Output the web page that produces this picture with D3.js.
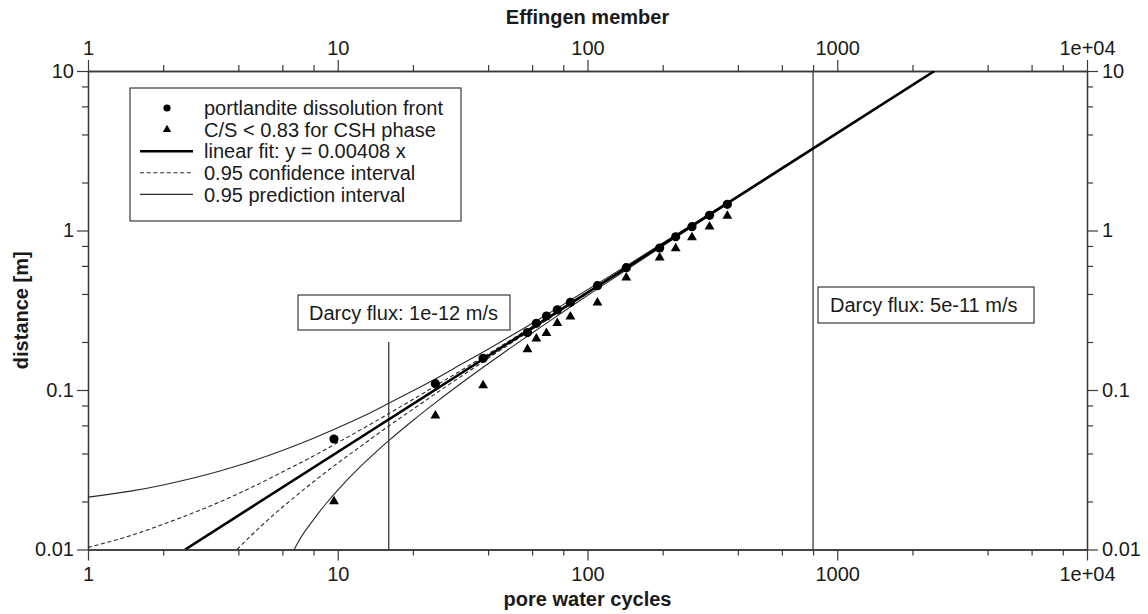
<!DOCTYPE html>
<html>
<head>
<meta charset="utf-8">
<script src="https://cdn.jsdelivr.net/npm/d3@7"></script>
<style>
  html, body { margin: 0; padding: 0; background: #fff; }
  svg { display: block; }
  text { font-family: "Liberation Sans", Arial, sans-serif; fill: #1a1a1a; }
</style>
</head>
<body>
<svg id="chart" width="1148" height="614"></svg>
<script>
// ---------- data ----------
const xMajorTicks = [1, 10, 100, 1000, 10000];
const xTickLabels = ["1", "10", "100", "1000", "1e+04"];
const yMajorTicks = [0.01, 0.1, 1, 10];
const yTickLabels = ["0.01", "0.1", "1", "10"];
const minorMultipliers = [2, 4, 6, 8];

// portlandite dissolution front (pore water cycles, distance m)
const portlanditeX = [9.66, 24.6, 38.2, 57.5, 62.4, 68.5, 75.7, 85.4, 109.6, 143, 194.5, 225.5, 262, 308, 363];
const portlanditeY = [0.0493, 0.1096, 0.158, 0.229, 0.262, 0.291, 0.318, 0.355, 0.451, 0.585, 0.777, 0.914, 1.057, 1.245, 1.46];
// C/S < 0.83 for CSH phase
const csX = [9.66, 24.6, 38.2, 57.5, 62.4, 68.5, 75.7, 85.4, 109.6, 143, 194.5, 225.5, 262, 308, 363];
const csY = [0.020, 0.069, 0.107, 0.180, 0.210, 0.227, 0.262, 0.288, 0.353, 0.506, 0.675, 0.773, 0.906, 1.057, 1.233];

// linear fit y = 0.00408 x (end points inside the plot)
const fitX = [2.45, 2451];
const fitY = [0.01, 10];

// 0.95 confidence interval
const confUpperX = [1, 1.5, 2, 3, 4, 6, 8, 10, 13, 16, 20, 25, 32, 40, 50, 65, 85, 110, 150, 200, 270, 370];
const confUpperY = [0.0103, 0.0123, 0.0144, 0.0184, 0.0224, 0.0306, 0.0386, 0.0468, 0.0589, 0.0711, 0.0873, 0.1077, 0.136, 0.1685, 0.209, 0.270, 0.351, 0.453, 0.616, 0.821, 1.107, 1.519];
const confLowerX = [3.95, 4, 5, 6, 8, 10, 13, 16, 20, 25, 32, 40, 50, 65, 85, 110, 150, 200, 270, 370];
const confLowerY = [0.01, 0.0102, 0.0143, 0.0184, 0.0266, 0.0348, 0.047, 0.0595, 0.0758, 0.0964, 0.125, 0.158, 0.199, 0.260, 0.342, 0.444, 0.608, 0.811, 1.094, 1.500];
// 0.95 prediction interval
const predUpperX = [1, 1.5, 2, 3, 4, 6, 8, 10, 13, 16, 20, 25, 32, 40, 50, 65, 85, 110, 150, 200, 270, 370];
const predUpperY = [0.0213, 0.0233, 0.0254, 0.0295, 0.0336, 0.0418, 0.0499, 0.058, 0.070, 0.0825, 0.0988, 0.119, 0.148, 0.180, 0.221, 0.282, 0.364, 0.466, 0.629, 0.834, 1.120, 1.528];
const predLowerX = [6.69, 7, 8, 9, 10, 12, 14, 16, 20, 25, 32, 40, 50, 65, 85, 110, 150, 200, 270, 370];
const predLowerY = [0.01, 0.0114, 0.0154, 0.0195, 0.0236, 0.0318, 0.0399, 0.0481, 0.0644, 0.0848, 0.1134, 0.146, 0.187, 0.248, 0.330, 0.432, 0.595, 0.799, 1.084, 1.491];

// vertical reference lines
const darcyLowX = 16;      // Darcy flux 1e-12 m/s
const darcyLowTop = 0.2;
const darcyHighX = 800;    // Darcy flux 5e-11 m/s

const legendLabels = [
  "portlandite dissolution front",
  "C/S < 0.83 for CSH phase",
  "linear fit: y = 0.00408 x",
  "0.95 confidence interval",
  "0.95 prediction interval"
];
const darcyLabels = ["Darcy flux: 1e-12 m/s", "Darcy flux: 5e-11 m/s"];

// ---------- drawing ----------
const svg = d3.select("#chart");
const L = 88, R = 1087, T = 71, B = 549.5;
const x = d3.scaleLog().domain([1, 1e4]).range([L, R]);
const y = d3.scaleLog().domain([0.01, 10]).range([B, T]);

const zip = (xs, ys) => xs.map((v, i) => [v, ys[i]]);
const minorOf = (majors) => {
  const out = [];
  majors.slice(0, -1).forEach(m => minorMultipliers.forEach(k => out.push(m * k)));
  return out;
};
const xMinor = minorOf(xMajorTicks);
const yMinor = minorOf(yMajorTicks);

const axisColor = "#3a3a3a";
function styleAxis(g) {
  g.selectAll("path.domain").attr("stroke", axisColor).attr("stroke-width", 1.3);
  g.selectAll(".tick line").attr("stroke", axisColor).attr("stroke-width", 1.2);
  g.selectAll(".tick text").style("font-family", '"Liberation Sans", Arial, sans-serif')
    .style("font-size", "20px").attr("fill", "#1a1a1a");
}
const fmtX = (d) => xTickLabels[xMajorTicks.indexOf(d)];
const fmtY = (d) => yTickLabels[yMajorTicks.indexOf(d)];

// minor ticks
svg.append("g").attr("transform", `translate(0,${B})`)
  .call(d3.axisBottom(x).tickValues(xMinor).tickSize(6).tickFormat("").tickSizeOuter(0)).call(styleAxis);
svg.append("g").attr("transform", `translate(0,${T})`)
  .call(d3.axisTop(x).tickValues(xMinor).tickSize(6).tickFormat("").tickSizeOuter(0)).call(styleAxis);
svg.append("g").attr("transform", `translate(${L},0)`)
  .call(d3.axisLeft(y).tickValues(yMinor).tickSize(6).tickFormat("").tickSizeOuter(0)).call(styleAxis);
svg.append("g").attr("transform", `translate(${R},0)`)
  .call(d3.axisRight(y).tickValues(yMinor).tickSize(6).tickFormat("").tickSizeOuter(0)).call(styleAxis);
// major ticks
svg.append("g").attr("transform", `translate(0,${B})`)
  .call(d3.axisBottom(x).tickValues(xMajorTicks).tickFormat(fmtX).tickSize(11).tickPadding(6).tickSizeOuter(0)).call(styleAxis);
svg.append("g").attr("transform", `translate(0,${T})`)
  .call(d3.axisTop(x).tickValues(xMajorTicks).tickFormat(fmtX).tickSize(11).tickPadding(5).tickSizeOuter(0)).call(styleAxis);
svg.append("g").attr("transform", `translate(${L},0)`)
  .call(d3.axisLeft(y).tickValues(yMajorTicks).tickFormat(fmtY).tickSize(11).tickPadding(3).tickSizeOuter(0)).call(styleAxis);
svg.append("g").attr("transform", `translate(${R},0)`)
  .call(d3.axisRight(y).tickValues(yMajorTicks).tickFormat(fmtY).tickSize(11).tickPadding(4).tickSizeOuter(0)).call(styleAxis);

// axis titles
const mid = (L + R) / 2;
svg.append("text").attr("x", mid).attr("y", 24).attr("text-anchor", "middle")
  .style("font-size", "20px").style("font-weight", "bold").text("Effingen member");
svg.append("text").attr("x", mid).attr("y", 606).attr("text-anchor", "middle")
  .style("font-size", "20px").style("font-weight", "bold").text("pore water cycles");
svg.append("text").attr("transform", `translate(28,${(T + B) / 2}) rotate(-90)`).attr("text-anchor", "middle")
  .style("font-size", "20px").style("font-weight", "bold").text("distance [m]");

// clip
svg.append("clipPath").attr("id", "plotclip").append("rect")
  .attr("x", L).attr("y", T).attr("width", R - L).attr("height", B - T);
const plot = svg.append("g").attr("clip-path", "url(#plotclip)");

const line = d3.line().x(d => x(d[0])).y(d => y(d[1])).curve(d3.curveMonotoneX);

// vertical lines
plot.append("line").attr("x1", x(darcyLowX)).attr("x2", x(darcyLowX))
  .attr("y1", y(darcyLowTop)).attr("y2", B).attr("stroke", axisColor).attr("stroke-width", 1.3);
plot.append("line").attr("x1", x(darcyHighX)).attr("x2", x(darcyHighX))
  .attr("y1", T).attr("y2", B).attr("stroke", axisColor).attr("stroke-width", 1.3);

// intervals
const thin = "#2a2a2a";
const dash = "4,2.7";
[[predUpperX, predUpperY], [predLowerX, predLowerY]].forEach(([xs, ys]) => {
  plot.append("path").datum(zip(xs, ys)).attr("d", line)
    .attr("fill", "none").attr("stroke", thin).attr("stroke-width", 1.1);
});
[[confUpperX, confUpperY], [confLowerX, confLowerY]].forEach(([xs, ys]) => {
  plot.append("path").datum(zip(xs, ys)).attr("d", line)
    .attr("fill", "none").attr("stroke", thin).attr("stroke-width", 1.1).attr("stroke-dasharray", dash);
});
// fit line
plot.append("path").datum(zip(fitX, fitY)).attr("d", line)
  .attr("fill", "none").attr("stroke", "#000").attr("stroke-width", 2.6);

// markers
const tri = d3.symbol().type(d3.symbolTriangle).size(42);
plot.selectAll("path.cs").data(zip(csX, csY)).enter().append("path").attr("class", "cs")
  .attr("d", tri).attr("transform", d => `translate(${x(d[0])},${y(d[1])})`).attr("fill", "#000");
plot.selectAll("circle.pt").data(zip(portlanditeX, portlanditeY)).enter().append("circle").attr("class", "pt")
  .attr("cx", d => x(d[0])).attr("cy", d => y(d[1])).attr("r", 4.6).attr("fill", "#000");

// Darcy labels
function labelBox(tx, ty, bx, by, bw, bh, str) {
  svg.append("rect").attr("x", bx).attr("y", by).attr("width", bw).attr("height", bh)
    .attr("fill", "#fff").attr("stroke", axisColor).attr("stroke-width", 1.2);
  svg.append("text").attr("x", tx).attr("y", ty).style("font-size", "20px").text(str);
}
labelBox(309, 320, 298, 295, 212, 35, darcyLabels[0]);
labelBox(830, 312, 818, 287, 216, 36, darcyLabels[1]);

// legend
const lg = svg.append("g");
lg.append("rect").attr("x", 130).attr("y", 88).attr("width", 331).attr("height", 133)
  .attr("fill", "#fff").attr("stroke", axisColor).attr("stroke-width", 1.2);
const rowY = i => 108 + i * 21.6;
lg.append("circle").attr("cx", 167).attr("cy", rowY(0)).attr("r", 3.6).attr("fill", "#000");
lg.append("path").attr("d", d3.symbol().type(d3.symbolTriangle).size(30))
  .attr("transform", `translate(167,${rowY(1)})`).attr("fill", "#000");
lg.append("line").attr("x1", 140).attr("x2", 193).attr("y1", rowY(2)).attr("y2", rowY(2))
  .attr("stroke", "#000").attr("stroke-width", 2.6);
lg.append("line").attr("x1", 140).attr("x2", 193).attr("y1", rowY(3)).attr("y2", rowY(3))
  .attr("stroke", thin).attr("stroke-width", 1.1).attr("stroke-dasharray", dash);
lg.append("line").attr("x1", 140).attr("x2", 193).attr("y1", rowY(4)).attr("y2", rowY(4))
  .attr("stroke", thin).attr("stroke-width", 1.1);
legendLabels.forEach((s, i) => {
  lg.append("text").attr("x", 204).attr("y", rowY(i)).attr("dy", "0.36em")
    .style("font-size", "20px").text(s);
});
</script>
</body>
</html>
